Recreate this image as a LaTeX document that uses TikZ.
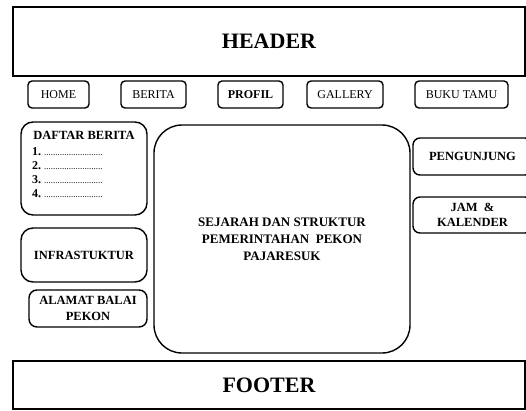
\documentclass[tikz,border=0pt]{standalone}
\usepackage{fontspec}
\setmainfont{Liberation Serif}
\begin{document}
\begin{tikzpicture}[x=1pt,y=-1pt,
  lw/.style={line width=1.4pt},
  bigbox/.style={draw, lw, inner sep=0pt, font=\fontsize{22}{26}\selectfont\bfseries},
  navbtn/.style={draw, lw, rounded corners=4pt, minimum height=27pt, inner sep=0pt, font=\fontsize{12}{14}\selectfont},
  sidebox/.style={draw, lw, inner sep=0pt, align=center, font=\fontsize{12.5}{15.5}\selectfont\bfseries},
  titletxt/.style={inner sep=0pt, font=\fontsize{12.5}{15.5}\selectfont\bfseries},
  listtxt/.style={anchor=west, inner sep=0pt, font=\fontsize{12}{14}\selectfont\bfseries}
]
\useasboundingbox (0,0) rectangle (526,410);
\clip (0,0) rectangle (526,410);

% header / footer
\node[bigbox, minimum width=512pt, minimum height=69pt] (header) at (269,41.5) {HEADER};
\node[bigbox, minimum width=512pt, minimum height=48pt] (footer) at (269,385) {FOOTER};

% navigation
\node[navbtn, minimum width=61pt] (home) at (58.5,94.5) {HOME};
\node[navbtn, minimum width=65pt] (berita) at (153.5,94.5) {BERITA};
\node[navbtn, minimum width=65pt, font=\fontsize{12}{14}\selectfont\bfseries] (profil) at (250.5,94.5) {PROFIL};
\node[navbtn, minimum width=76pt] (gallery) at (345,94.5) {GALLERY};
\node[navbtn, minimum width=93pt] (bukutamu) at (461.5,94.5) {BUKU TAMU};

% left column
\node[sidebox, rounded corners=12pt, minimum width=126pt, minimum height=93pt] (daftar) at (84,168.5) {};
\node[titletxt] (daftartitle) at (84,135) {DAFTAR BERITA};
\node[listtxt] (l1) at (32,152) {1. {\mdseries\fontsize{9}{10}\selectfont\kern-1pt ..........................}};
\node[listtxt] (l2) at (32,166) {2. {\mdseries\fontsize{9}{10}\selectfont\kern-1pt ..........................}};
\node[listtxt] (l3) at (32,180) {3. {\mdseries\fontsize{9}{10}\selectfont\kern-1pt ..........................}};
\node[listtxt] (l4) at (32,194) {4. {\mdseries\fontsize{9}{10}\selectfont\kern-1pt ..........................}};

\node[sidebox, rounded corners=12pt, minimum width=126pt, minimum height=54pt] (infra) at (84,255) {INFRASTUKTUR};
\node[sidebox, rounded corners=8pt, minimum width=118pt, minimum height=37pt] (alamat) at (88,308.5) {ALAMAT BALAI\\PEKON};

% main content
\node[sidebox, rounded corners=28pt, minimum width=256pt, minimum height=228pt, font=\fontsize{13}{17}\selectfont\bfseries] (main) at (282,239) {SEJARAH DAN STRUKTUR\\PEMERINTAHAN\ \ PEKON\\PAJARESUK};

% right column
\node[sidebox, rounded corners=7pt, minimum width=119pt, minimum height=37pt] (pengunjung) at (472.5,156.5) {PENGUNJUNG};
\node[sidebox, rounded corners=7pt, minimum width=119pt, minimum height=36pt] (jam) at (472.5,215) {JAM\ \ \&\\KALENDER};
\end{tikzpicture}
\end{document}
